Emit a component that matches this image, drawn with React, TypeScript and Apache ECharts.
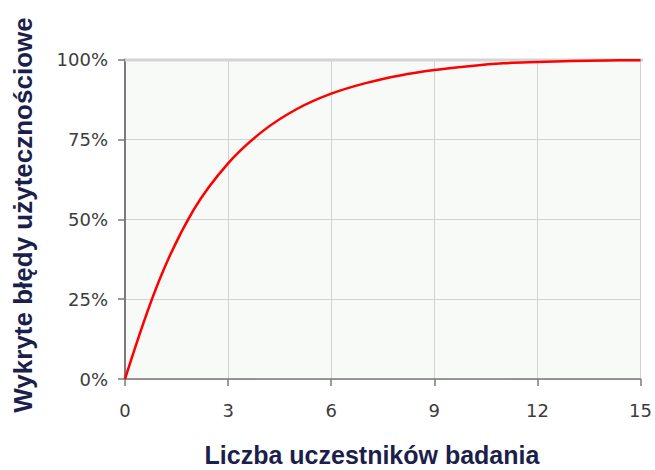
import React, { useEffect, useRef } from "react";
import * as echarts from "echarts";

const participants = [0, 1, 2, 3, 4, 5, 6, 7, 8, 9, 10, 11, 12, 13, 14, 15];
const foundPct = [0, 31, 53, 67.5, 77.5, 84.5, 89.3, 92.6, 95, 96.7, 97.9, 98.8, 99.2, 99.5, 99.7, 99.8];
const xTicks = [0, 3, 6, 9, 12, 15];
const yTicks = [0, 25, 50, 75, 100];
const xTitle = "Liczba uczestników badania";
const yTitle = "Wykryte błędy użytecznościowe";

export default function App() {
  const ref = useRef<HTMLDivElement>(null);
  useEffect(() => {
    if (!ref.current) return;
    const chart = echarts.init(ref.current, undefined, { renderer: "svg" });
    const labelFont = { fontFamily: "DejaVu Sans", fontSize: 18, color: "#3c3c3c" };
    chart.setOption({
      animation: false,
      backgroundColor: "#ffffff",
      grid: {
        left: 125,
        right: 12,
        top: 59.5,
        bottom: 91,
        show: true,
        backgroundColor: "#f8faf8",
        borderWidth: 0,
      },
      xAxis: {
        type: "value",
        min: xTicks[0],
        max: xTicks[xTicks.length - 1],
        interval: 3,
        axisLine: { show: true, lineStyle: { color: "#7a7a7a", width: 1.5 } },
        axisTick: { show: true, length: 7, lineStyle: { color: "#7a7a7a", width: 1.5 } },
        axisLabel: { ...labelFont, margin: 22 },
        splitLine: { show: true, lineStyle: { color: "#d2d2d2", width: 1 } },
      },
      yAxis: {
        type: "value",
        min: yTicks[0],
        max: yTicks[yTicks.length - 1],
        interval: 25,
        axisLine: { show: true, lineStyle: { color: "#7a7a7a", width: 2 } },
        axisTick: { show: true, length: 7, lineStyle: { color: "#7a7a7a", width: 1.5 } },
        axisLabel: { ...labelFont, margin: 17, formatter: "{value}%" },
        splitLine: { show: true, lineStyle: { color: "#d2d2d2", width: 1 } },
      },
      graphic: [
        {
          type: "line",
          shape: { x1: 125, y1: 60, x2: 643, y2: 60 },
          style: { stroke: "#d4d4d4", lineWidth: 3 },
          z: 1,
        },
        {
          type: "text",
          x: 372,
          y: 455,
          style: {
            text: xTitle,
            align: "center",
            verticalAlign: "middle",
            fontFamily: "Liberation Sans",
            fontWeight: "bold",
            fontSize: 25,
            fill: "#1b1f4b",
          },
        },
        {
          type: "text",
          x: 23,
          y: 215,
          rotation: Math.PI / 2,
          style: {
            text: yTitle,
            align: "center",
            verticalAlign: "middle",
            fontFamily: "Liberation Sans",
            fontWeight: "bold",
            fontSize: 26,
            fill: "#1b1f4b",
          },
        },
      ],
      series: [
        {
          type: "line",
          data: participants.map((x, i) => [x, foundPct[i]]),
          smooth: 0.35,
          showSymbol: false,
          lineStyle: { color: "#ff0000", width: 2.5 },
          z: 5,
        },
      ],
    });
    return () => chart.dispose();
  }, []);
  return (
    <div
      ref={ref}
      style={{ position: "fixed", left: 0, top: 0, width: 655, height: 470 }}
    />
  );
}
